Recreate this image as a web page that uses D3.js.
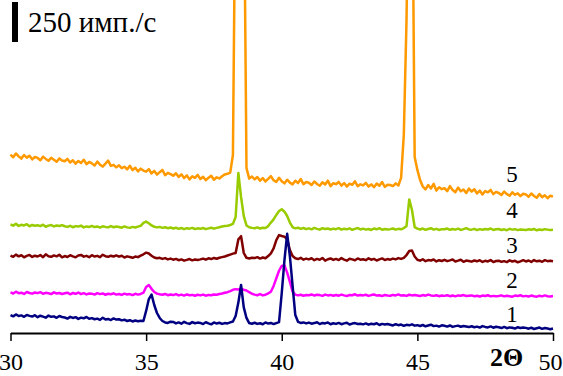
<!DOCTYPE html>
<html lang="ru">
<head>
<meta charset="utf-8">
<title>XRD patterns</title>
<script src="https://cdn.jsdelivr.net/npm/d3@7"></script>
<style>
  body { margin: 0; background: #fff; }
  svg { display: block; }
  svg text { font-family: "Liberation Serif", "DejaVu Serif", "Times New Roman", Times, serif !important; }
</style>
</head>
<body>
<script>
var w = 563;
var h = 376;

// 2theta grid: 30.0 .. 50.0, step 0.1 (201 points per pattern)
var angleStart = 30;
var angleStep = 0.1;
var tickValues = [30, 35, 40, 45, 50];

// intensities (counts), stacked offsets included
var pattern1 = [
  112,104,116,106,110,101,113,107,103,111,
  99,108,102,96,109,101,104,95,106,100,
  97,90,101,94,99,88,96,92,100,89,
  93,86,90,82,95,85,88,81,91,84,
  86,79,83,75,80,72,78,74,76,75,
  138,212,240,175,125,94,75,66,63,71,
  69,60,66,58,70,62,57,68,61,65,
  63,56,67,60,54,66,59,64,57,62,
  60,66,72,106,190,300,160,94,62,58,
  64,57,61,55,66,59,63,56,62,68,
  250,456,620,480,294,112,70,63,66,60,
  65,58,62,67,56,63,60,66,55,61,
  57,63,55,60,64,53,59,62,56,58,
  54,60,52,58,55,61,50,57,53,56,
  52,47,55,49,53,45,51,48,54,46,
  49,44,50,42,47,52,43,46,40,48,
  45,40,47,38,43,46,39,44,41,37,
  42,36,40,34,43,38,35,41,33,39,
  36,31,38,30,35,33,28,36,31,34,
  32,27,33,25,30,34,26,31,28,24,
  28
];

var pattern2 = [
  254,247,258,249,252,244,256,250,246,253,
  249,255,245,251,248,243,254,247,250,244,
  248,252,242,250,245,253,243,249,241,247,
  246,240,249,243,247,239,245,242,248,240,
  244,238,246,241,243,237,245,240,244,252,
  288,300,276,256,246,242,239,244,236,241,
  237,243,235,240,234,241,236,238,233,239,
  235,240,233,238,236,241,239,244,247,251,
  255,262,270,274,272,276,270,266,255,245,
  240,236,243,235,239,248,258,294,342,389,
  419,423,377,320,258,240,235,239,233,237,
  236,241,234,239,237,232,240,235,238,233,
  237,233,240,235,231,238,236,242,234,237,
  235,239,232,237,241,234,236,231,238,235,
  233,238,235,241,234,236,232,239,235,237,
  234,231,237,233,240,235,232,236,230,234,
  232,236,230,234,229,235,233,237,231,233,
  235,230,233,228,234,231,236,229,232,230,
  231,235,229,233,230,227,234,231,236,229,
  232,228,234,230,227,233,229,235,230,228,
  231
];

var pattern3 = [
  484,476,490,479,486,473,482,488,475,483,
  478,487,474,492,480,476,485,479,489,473,
  481,475,486,479,473,484,488,477,482,474,
  486,478,482,474,489,480,476,483,478,485,
  477,483,472,479,475,470,478,474,484,492,
  502,497,483,472,467,470,463,468,460,465,
  458,463,455,460,452,457,462,454,459,456,
  460,465,458,467,462,469,464,470,474,478,
  484,490,496,500,585,605,500,470,466,470,
  468,474,465,472,467,481,498,529,581,612,
  606,602,585,519,481,467,462,470,458,465,
  460,467,455,463,458,469,452,461,466,457,
  463,456,468,459,452,464,460,455,466,458,
  461,455,467,458,463,453,460,466,456,462,
  458,465,460,468,463,470,487,512,515,478,
  458,452,461,449,456,453,459,447,455,450,
  457,449,454,460,447,452,458,445,453,450,
  446,453,448,455,444,451,447,456,443,450,
  452,445,449,443,454,447,451,442,448,455,
  447,453,444,456,448,452,445,455,449,451,
  448
];

var pattern4 = [
  678,671,683,669,676,672,680,667,675,670,
  673,668,677,664,671,675,666,672,669,674,
  667,663,670,661,668,665,671,660,666,663,
  669,662,666,659,667,663,660,668,661,665,
  662,658,666,660,657,663,659,665,670,688,
  696,686,672,664,660,663,657,661,655,659,
  653,658,651,656,649,655,652,657,650,654,
  651,656,649,654,658,652,657,661,665,669,
  670,675,682,725,1000,850,730,672,661,657,
  655,660,653,658,656,668,690,710,738,762,
  773,758,731,690,661,654,658,651,656,649,
  654,648,657,651,646,655,650,653,647,652,
  649,655,646,652,648,654,645,651,656,647,
  652,646,650,644,653,648,655,645,650,647,
  649,653,646,651,648,656,668,835,770,662,
  652,647,653,645,650,655,646,651,644,649,
  648,653,645,650,646,652,644,649,655,647,
  646,651,643,649,645,650,647,653,644,648,
  650,644,648,642,651,646,649,643,647,645,
  643,648,645,650,642,647,644,649,646,643,
  645
];

var pattern5 = [
  1115,1098,1122,1104,1090,1112,1096,1108,1085,1100,
  1094,1080,1102,1088,1076,1095,1083,1070,1091,1078,
  1073,1088,1066,1079,1058,1075,1062,1083,1055,1069,
  1060,1047,1071,1052,1040,1058,1077,1044,1051,1035,
  1048,1030,1039,1022,1045,1018,1033,1010,1027,1015,
  1008,1024,997,1013,990,1005,1019,986,1001,993,
  983,998,975,992,968,985,960,979,970,988,
  962,976,955,970,983,958,973,966,980,991,
  995,1002,1112,3000,3200,3200,3000,1031,965,978,
  960,975,952,968,947,963,980,955,944,970,
  948,935,958,940,929,951,937,962,930,944,
  939,925,947,931,920,942,928,952,918,936,
  930,944,921,937,915,933,926,948,917,929,
  922,938,915,929,911,934,920,943,913,927,
  925,918,935,922,969,1238,1956,3200,3200,1100,
  1019,956,915,898,925,903,932,890,911,899,
  905,887,918,893,880,909,886,897,875,902,
  884,898,872,890,866,887,879,894,868,882,
  875,862,884,868,858,879,864,873,855,870,
  866,851,872,856,845,868,849,861,842,858,
  852
];

var patterns = [
  { label: "5", values: pattern5, color: "#ff9900", labelY: 182 },
  { label: "4", values: pattern4, color: "#99cc00", labelY: 218 },
  { label: "3", values: pattern3, color: "#800000", labelY: 253 },
  { label: "2", values: pattern2, color: "#ff00ff", labelY: 288 },
  { label: "1", values: pattern1, color: "#000080", labelY: 322 }
];

var xScale = d3.scaleLinear()
               .domain([30, 50])
               .range([10.5, 553]);

// 250 counts == 40 px
var yScale = d3.scaleLinear()
               .domain([0, 2081])
               .range([333, 0]);

var svg = d3.select("body")
            .append("svg")
            .attr("width", w)
            .attr("height", h);

var line = d3.line()
             .x(function(d) { return xScale(d[0]); })
             .y(function(d) { return yScale(d[1]); });

// patterns, navy last so it sits on top
svg.selectAll("path.pattern")
   .data(patterns)
   .enter()
   .append("path")
   .attr("class", "pattern")
   .attr("d", function(p) {
     return line(p.values.map(function(v, i) {
       return [angleStart + i * angleStep, v];
     }));
   })
   .attr("fill", "none")
   .attr("stroke", function(p) { return p.color; })
   .attr("stroke-width", 2.5)
   .attr("stroke-linejoin", "round");

// curve numbers
svg.selectAll("text.num")
   .data(patterns)
   .enter()
   .append("text")
   .attr("class", "num")
   .attr("x", 512)
   .attr("y", function(p) { return p.labelY; })
   .attr("text-anchor", "middle")
   .attr("font-size", "23px")
   .text(function(p) { return p.label; });

// x axis
var xAxis = d3.axisBottom(xScale)
              .tickValues(tickValues)
              .tickSize(8)
              .tickSizeOuter(0);

var gx = svg.append("g")
            .attr("transform", "translate(0," + yScale(0) + ")")
            .call(xAxis);

gx.select(".domain").attr("stroke", "#000").attr("stroke-width", 2);
gx.selectAll(".tick line").attr("stroke", "#000").attr("stroke-width", 1.5);
gx.selectAll(".tick text")
  .attr("y", 37)
  .attr("dy", null)
  .attr("fill", "#000")
  .attr("font-size", "24px");

// keep the last label inside the picture
gx.selectAll(".tick text")
  .filter(function(d) { return d === 50; })
  .attr("text-anchor", "end")
  .attr("x", 9);

svg.append("text")
   .attr("x", 490)
   .attr("y", 366)
   .attr("font-weight", "bold")
   .attr("font-size", "26px")
   .text("2\u0398");

// scale bar
svg.append("rect")
   .attr("x", 12)
   .attr("y", 2)
   .attr("width", 6)
   .attr("height", yScale(0) - yScale(250))
   .attr("fill", "#000");

svg.append("text")
   .attr("x", 28)
   .attr("y", 32)
   .attr("font-size", "29px")
   .text("250 имп./с");
</script>
</body>
</html>
